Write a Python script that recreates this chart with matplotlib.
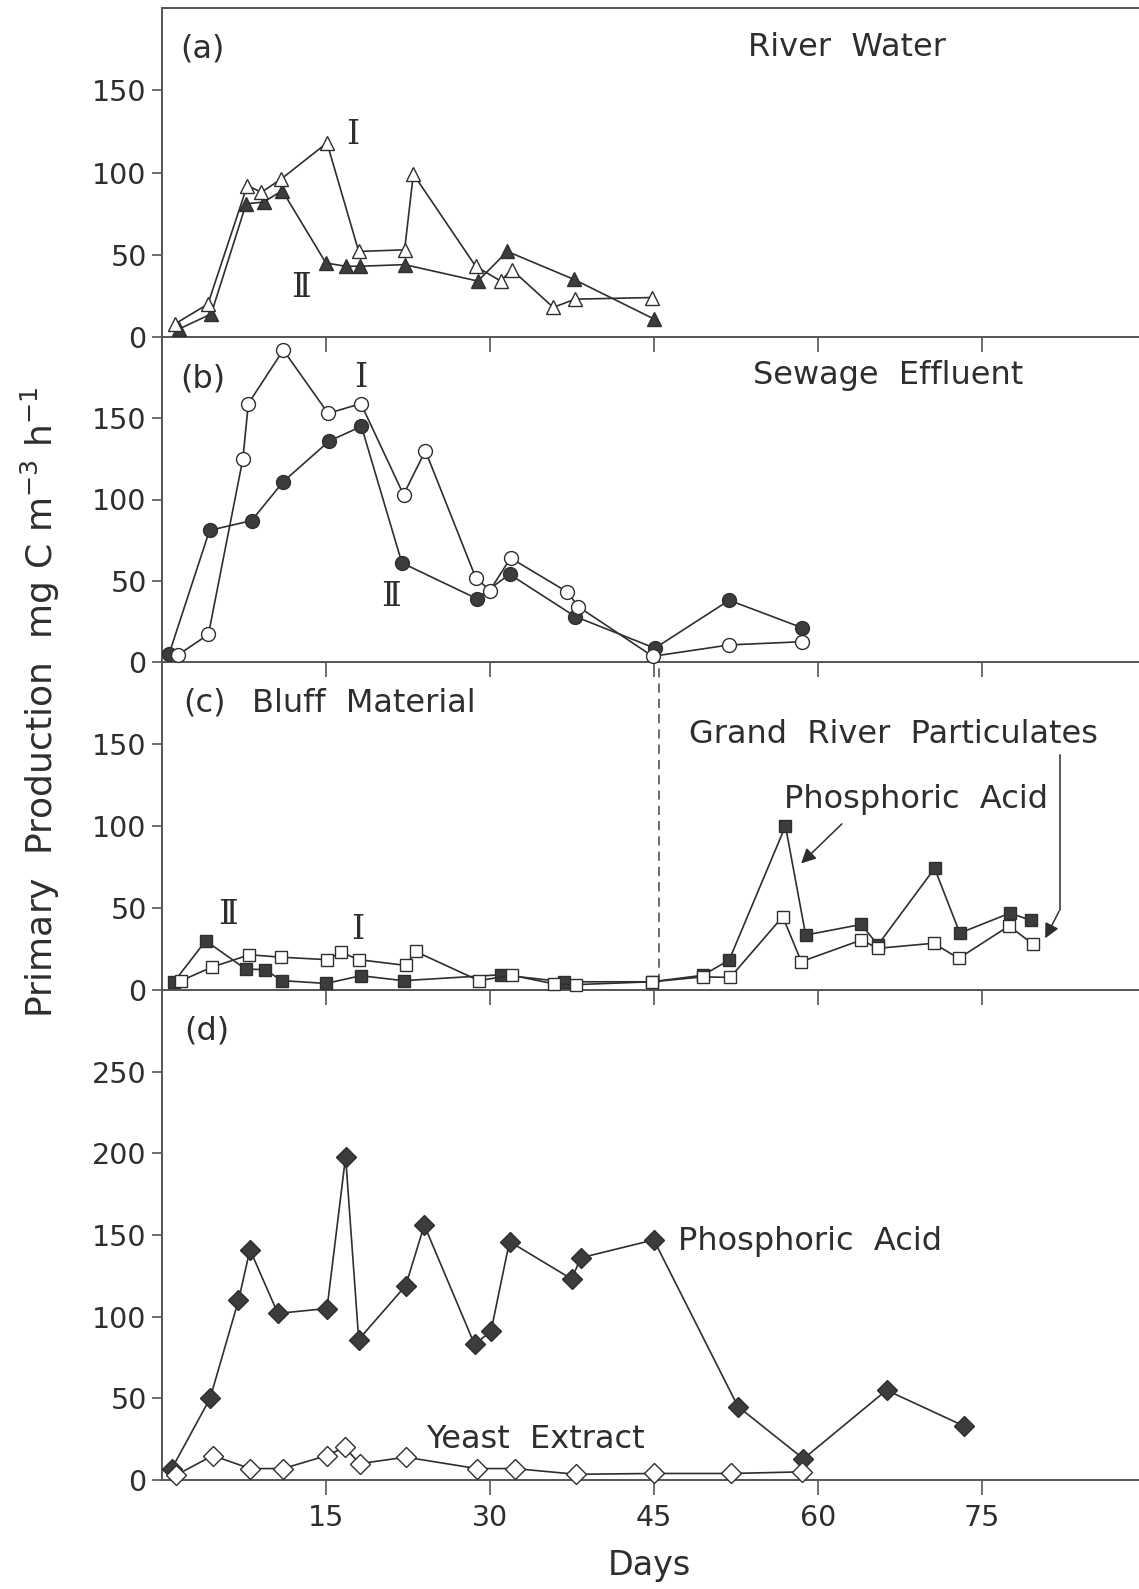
import matplotlib
matplotlib.use("Agg")
import matplotlib.pyplot as plt

# --- data (days, mg C m-3 h-1) ---
# (a) River Water
a_I_day = [1.2, 4.2, 7.8, 9.1, 10.9, 15.1, 18.0, 22.2, 23.0, 28.7, 31.0, 32.0, 35.8, 37.8, 44.8]
a_I_val = [8, 20, 92, 88, 96, 118, 52, 53, 99, 43, 34, 41, 18, 23, 24]
a_II_day = [1.6, 4.5, 7.7, 9.3, 11.0, 15.0, 16.8, 18.1, 22.2, 28.9, 31.6, 37.7, 45.0]
a_II_val = [5, 14, 81, 82, 89, 45, 43, 43, 44, 34, 52, 35, 11]

# (b) Sewage Effluent
b_I_day = [1.5, 4.25, 7.4, 7.9, 11.1, 15.2, 18.2, 22.1, 24.1, 28.7, 30.0, 31.9, 37.1, 38.1, 44.9, 51.9, 58.6]
b_I_val = [4.5, 17, 125, 159, 192, 153, 159, 103, 130, 52, 44, 64, 43, 34, 3.5, 10.5, 12.5]
b_II_day = [0.65, 4.35, 8.2, 11.1, 15.3, 18.25, 21.95, 28.8, 31.8, 37.8, 45.1, 51.9, 58.6]
b_II_val = [5, 81, 87, 111, 136, 145, 61, 39, 54, 28, 8.5, 38, 21]

# (c) Bluff Material, then Grand River Particulates after day 45
c_open_day = [1.75, 4.6, 8.0, 10.9, 15.1, 16.4, 18.0, 22.3, 23.2, 29.0, 32.0, 35.9, 37.9, 44.8,
              49.5, 52.0, 56.8, 58.5, 64.0, 65.5, 70.6, 72.9, 77.5, 79.7]
c_open_val = [5.7, 14, 21.5, 20, 18.5, 23, 18.5, 15, 23.5, 5.7, 9, 3.7, 3.3, 5,
              8, 7.7, 44.7, 17.3, 30.5, 25.4, 28.5, 19.3, 39, 28]
c_fill_day = [1.1, 4.0, 7.65, 9.4, 11.0, 15.0, 18.2, 22.1, 31.0, 36.8, 44.8,
              49.5, 51.9, 57.05, 58.9, 64.0, 65.5, 70.7, 73.0, 77.6, 79.5]
c_fill_val = [5, 30, 12.8, 12.4, 5.7, 4, 8.7, 5.7, 9.3, 5, 5,
              9, 18.3, 100, 33.5, 40, 27.4, 74.2, 34.7, 46.9, 42.5]

# (d) Phosphoric Acid / Yeast Extract
d_pa_day = [0.9, 4.4, 7.0, 8.05, 10.6, 15.1, 16.8, 18.0, 22.3, 24.0, 28.6, 30.1, 31.8, 37.5, 38.3,
            45.0, 52.7, 58.7, 66.3, 73.4]
d_pa_val = [7, 50, 110, 141, 102, 105, 198, 86, 119, 156, 83, 91, 146, 123, 136,
            147, 45, 13, 55, 33]
d_ye_day = [1.3, 4.65, 8.05, 11.1, 15.1, 16.7, 18.1, 22.3, 28.8, 32.3, 37.9, 45.0, 52.1, 58.6]
d_ye_val = [3, 15, 7, 7, 15, 20, 10, 14, 7, 7, 3.5, 4, 4, 5]

x_ticks = [15, 30, 45, 60, 75]

ink = '#2e2e2e'
fill = '#3c3c3c'
FS = 23
TS = 20.5
roman = ['DejaVu Serif', 'DejaVu Sans']

W, H = 1139, 1589
fig = plt.figure(figsize=(W / 100, H / 100), dpi=100)

left = 162 / W
def rect(top, bot):
    return [left, 1 - bot / H, 1 - left, (bot - top) / H]

axa = fig.add_axes(rect(8, 337))
axb = fig.add_axes(rect(337, 662))
axc = fig.add_axes(rect(662, 990))
axd = fig.add_axes(rect(990, 1480))
axes = [axa, axb, axc, axd]

for ax in axes:
    ax.patch.set_visible(False)
    ax.set_xlim(0, 89.4)
    ax.set_xticks(x_ticks)
    ax.spines['right'].set_visible(False)
    for s in ['left', 'bottom', 'top']:
        ax.spines[s].set_color('#555555')
        ax.spines[s].set_linewidth(1.4)
    ax.tick_params(axis='x', direction='out', length=10.5, width=1.2, color='#555555',
                   labelsize=TS, labelcolor=ink, pad=7)
    ax.tick_params(axis='y', direction='out', length=7, width=1.2, color='#555555',
                   labelsize=TS, labelcolor=ink, pad=4)
for ax in [axb, axc, axd]:
    ax.spines['top'].set_visible(False)
for ax in [axa, axb, axc]:
    ax.set_ylim(0, 200)
    ax.set_yticks([0, 50, 100, 150])
    ax.tick_params(axis='x', labelbottom=False)
axd.set_ylim(0, 300)
axd.set_yticks([0, 50, 100, 150, 200, 250])

lkw = dict(color=ink, lw=1.2, clip_on=False, zorder=3)

# (a)
axa.plot(a_II_day, a_II_val, marker='^', ms=10.5, mfc=fill, mec=ink, **lkw)
axa.plot(a_I_day, a_I_val, marker='^', ms=10.5, mfc='white', mec=ink, **lkw)
axa.text(1.7, 175, '(a)', fontsize=FS, color=ink, va='center')
axa.text(62.7, 176, 'River  Water', fontsize=FS, color=ink, va='center', ha='center')
axa.text(17.5, 123, 'Ⅰ', fontsize=FS + 1, color=ink, va='center', ha='center', family=roman)
axa.text(12.7, 30, 'Ⅱ', fontsize=FS + 1, color=ink, va='center', ha='center', family=roman)

# (b)
axb.plot(b_II_day, b_II_val, marker='o', ms=10, mfc=fill, mec=ink, **lkw)
axb.plot(b_I_day, b_I_val, marker='o', ms=10, mfc='white', mec=ink, **lkw)
axb.text(1.7, 174, '(b)', fontsize=FS, color=ink, va='center')
axb.text(66.4, 176.5, 'Sewage  Effluent', fontsize=FS, color=ink, va='center', ha='center')
axb.text(18.2, 175, 'Ⅰ', fontsize=FS + 1, color=ink, va='center', ha='center', family=roman)
axb.text(21.0, 40, 'Ⅱ', fontsize=FS + 1, color=ink, va='center', ha='center', family=roman)

# (c)
axc.plot(c_fill_day, c_fill_val, marker='s', ms=9, mfc=fill, mec=ink, **lkw)
axc.plot(c_open_day, c_open_val, marker='s', ms=9, mfc='white', mec=ink, **lkw)
axc.axvline(45.5, ymin=0.02, ymax=1, color='#444444', lw=1.1, ls=(0, (6, 4)))
axc.text(1.9, 175, '(c)', fontsize=FS, color=ink, va='center')
axc.text(8.2, 175, 'Bluff  Material', fontsize=FS, color=ink, va='center')
axc.text(6.0, 45.5, 'Ⅱ', fontsize=FS + 1, color=ink, va='center', ha='center', family=roman)
axc.text(17.9, 36.5, 'Ⅰ', fontsize=FS + 1, color=ink, va='center', ha='center', family=roman)
axc.text(48.2, 155.5, 'Grand  River  Particulates', fontsize=FS, color=ink, va='center')
axc.text(56.9, 116, 'Phosphoric  Acid', fontsize=FS, color=ink, va='center')
axc.annotate('', xy=(58.3, 76), xytext=(62.4, 102.5),
             arrowprops=dict(arrowstyle='-|>', color=ink, lw=1.1, mutation_scale=22))
axc.plot([82.2, 82.2], [143, 49], color=ink, lw=1.1)
axc.annotate('', xy=(80.7, 30), xytext=(82.2, 49.5),
             arrowprops=dict(arrowstyle='-|>', color=ink, lw=1.1, mutation_scale=22))

# (d)
axd.plot(d_pa_day, d_pa_val, marker='D', ms=10, mfc=fill, mec=ink, **lkw)
axd.plot(d_ye_day, d_ye_val, marker='D', ms=10, mfc='white', mec=ink, **lkw)
axd.text(2.0, 275, '(d)', fontsize=FS, color=ink, va='center')
axd.text(47.2, 146, 'Phosphoric  Acid', fontsize=FS, color=ink, va='center')
axd.text(24.2, 24.5, 'Yeast  Extract', fontsize=FS, color=ink, va='center')

fig.text(649 / W, 1 - 1566 / H, 'Days', fontsize=24, color=ink, ha='center', va='center')
fig.text(40 / W, 1 - 702 / H, r'Primary  Production  mg C m$^{-3}$ h$^{-1}$', fontsize=26,
         color=ink, rotation=90, ha='center', va='center')

fig.savefig('out.png', dpi=100)
